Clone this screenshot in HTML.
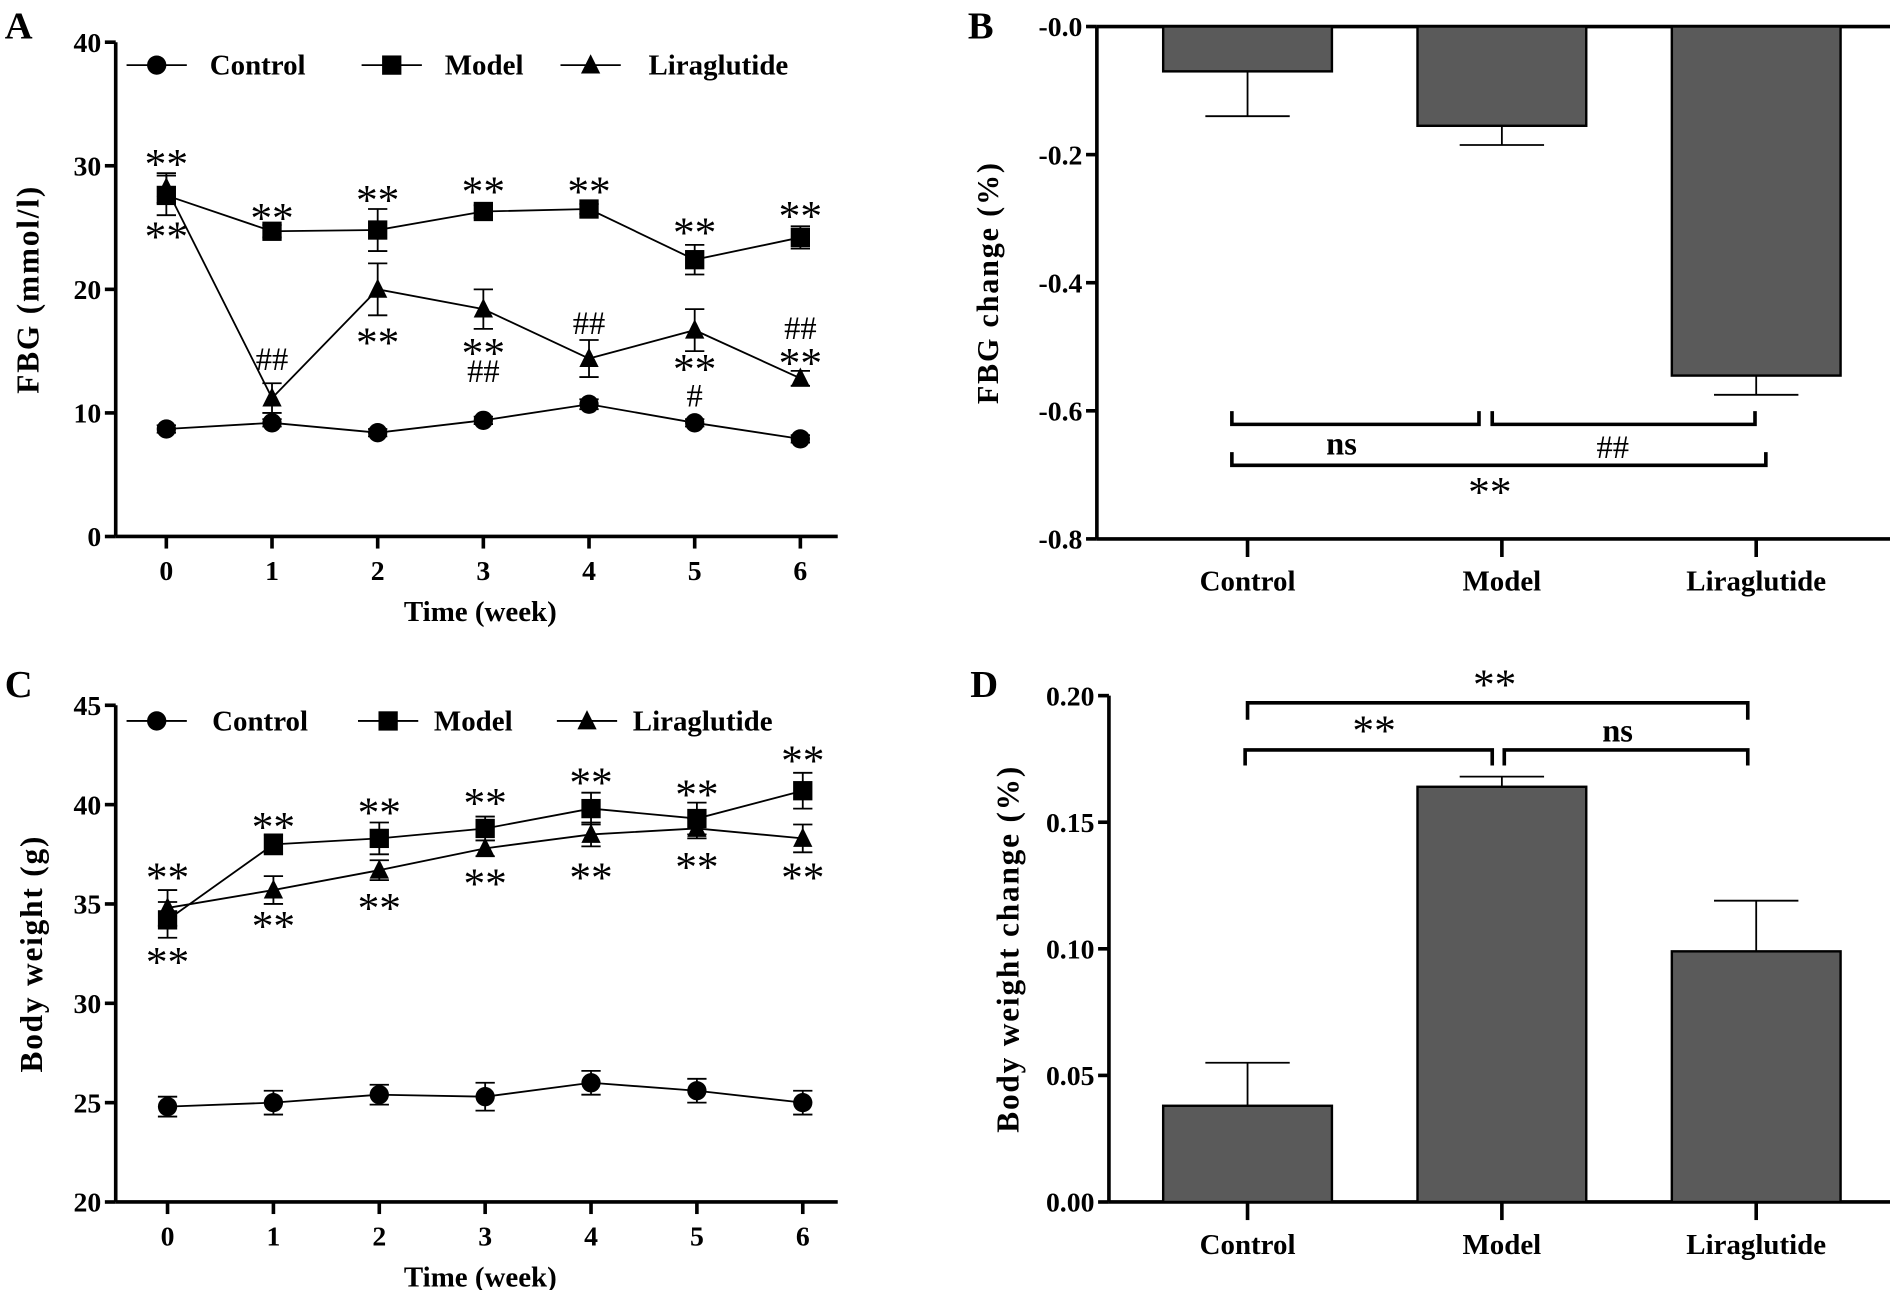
<!DOCTYPE html>
<html><head><meta charset="utf-8"><style>
html,body{margin:0;padding:0;background:#fff;}
svg{display:block;font-family:"Liberation Serif",serif;font-weight:bold;}
</style></head><body>
<svg id="fig" width="1890" height="1290" viewBox="0 0 1568 1070" preserveAspectRatio="none" xmlns="http://www.w3.org/2000/svg"></svg>
<script>
const weeks = [0,1,2,3,4,5,6];
const fbgControl = [8.7,9.2,8.4,9.4,10.7,9.2,7.9];
const fbgControlErr = [0.3,0.3,0.3,0.3,0.4,0.3,0.3];
const fbgModel = [27.6,24.7,24.8,26.3,26.5,22.4,24.2];
const fbgModelErr = [1.6,0.5,1.7,0.5,0.4,1.2,0.9];
const fbgLira = [28.2,11.2,20.0,18.4,14.4,16.7,12.8];
const fbgLiraErr = [1.2,1.2,2.1,1.6,1.5,1.7,0.6];
const fbgTicks = [0,10,20,30,40];
const bwControl = [24.8,25.0,25.4,25.3,26.0,25.6,25.0];
const bwControlErr = [0.5,0.6,0.5,0.7,0.6,0.6,0.6];
const bwModel = [34.2,38.0,38.3,38.8,39.8,39.3,40.7];
const bwModelErr = [0.9,0.5,0.8,0.6,0.8,0.8,0.9];
const bwLira = [34.8,35.7,36.7,37.8,38.5,38.8,38.3];
const bwLiraErr = [0.9,0.7,0.5,0.4,0.6,0.5,0.7];
const bwTicks = [20,25,30,35,40,45];
const groups = ["Control","Model","Liraglutide"];
const fbgChange = [-0.07,-0.155,-0.545];
const fbgChangeErr = [0.07,0.03,0.03];
const fbgChangeTicks = [-0.8,-0.6,-0.4,-0.2,0];
const bwChange = [0.038,0.164,0.099];
const bwChangeErr = [0.017,0.004,0.020];
const bwChangeTicks = [0,0.05,0.10,0.15,0.20];

const svg=document.getElementById('fig');
const NS='http://www.w3.org/2000/svg';
function el(tag,attrs,parent,text){const e=document.createElementNS(NS,tag);for(const k in attrs)e.setAttribute(k,attrs[k]);if(text!==undefined)e.textContent=text;(parent||svg).appendChild(e);return e;}
function line(x1,y1,x2,y2,w,p){return el('line',{x1,y1,x2,y2,stroke:'#000','stroke-width':w||1.5},p);}
function txt(x,y,s,size,anchor,p,extra){const a={x,y,'font-size':size,'text-anchor':anchor||'middle'};Object.assign(a,extra||{});return el('text',a,p,s);}
function marker(type,x,y,p,r){r=r||8;
  if(type==='circle')return el('circle',{cx:x,cy:y,r:r,fill:'#000'},p);
  if(type==='square')return el('rect',{x:x-r,y:y-r,width:2*r,height:2*r,fill:'#000'},p);
  return el('polygon',{points:`${x},${y-r-1} ${x-r},${y+r-1} ${x+r},${y+r-1}`,fill:'#000'},p);}
const STAR=36;

function linePanel(cfg){
  const g=el('g',{});
  
  
  const {x0,x1,yTop,yBot,vmin,vmax}=cfg;
  const sy=v=>yBot-(v-vmin)/(vmax-vmin)*(yBot-yTop);
  const sx=w=>cfg.wx0+w*(cfg.wx6-cfg.wx0)/6;
  const ax=el('g',{},g);
  line(x0,yTop,x0,yBot,3,ax);
  cfg.ticks.forEach(t=>{line(x0-9,sy(t),x0,sy(t),3,ax);txt(x0-12,sy(t)+8,String(t),23,'end',ax);});
  const xa=el('g',{},g);
  line(x0,yBot,x1,yBot,3,xa);
  weeks.forEach(w=>{line(sx(w),yBot,sx(w),yBot+10,3,xa);txt(sx(w),yBot+36,String(w),23,'middle',xa);});
  const xt=txt((x0+x1)/2+3,yBot+70,'Time (week)',24,'middle',g);
  const yt=txt(0,0,cfg.ytitle,cfg.ytsize,'middle',g,{transform:`translate(${cfg.ytx},${(yTop+yBot)/2}) rotate(-90)`,'letter-spacing':cfg.yls||0});
  
  cfg.series.forEach(s=>{
    const sg=el('g',{},g);
    el('polyline',{points:s.v.map((v,i)=>`${sx(weeks[i])},${sy(v)}`).join(' '),fill:'none',stroke:'#000','stroke-width':1.5},sg);
    s.v.forEach((v,i)=>{const x=sx(weeks[i]);const e=s.e[i];
      line(x,sy(v-e),x,sy(v+e),1.5,sg);line(x-8,sy(v+e),x+8,sy(v+e),1.5,sg);line(x-8,sy(v-e),x+8,sy(v-e),1.5,sg);
      const m=marker(s.m,x,sy(v),sg);});
  });
  const lg=el('g',{},g);
  cfg.legend.forEach(L=>{const le=el('g',{},lg);
    line(L.mx-25,cfg.ly,L.mx+25,cfg.ly,1.5,le);marker(L.m,L.mx,cfg.ly,le);txt(L.tx,cfg.ly+8,L.t,24,'start',le);});
  const an=el('g',{},g);
  cfg.ann.forEach(a=>txt(sx(a[0]),a[1],a[2],a[2]==='**'?STAR:27,'middle',an,{'font-weight':'normal'}));
  return g;
}

function barPanel(cfg){
  const g=el('g',{});
  
  
  const {x0,x1,yTop,yBot,vmin,vmax}=cfg;
  const sy=v=>yBot-(v-vmin)/(vmax-vmin)*(yBot-yTop);
  const sx=i=>cfg.c0+i*(cfg.c2-cfg.c0)/2;
  const ax=el('g',{},g);
  line(x0,yTop,x0,yBot,3,ax);
  cfg.ticks.forEach(t=>{line(x0-9,sy(t),x0,sy(t),3,ax);txt(x0-12,sy(t)+8,cfg.fmt(t),23,'end',ax);});
  const xa=el('g',{},g);
  line(x0,yBot,x1,yBot,3,xa);
  if(cfg.topLine)line(x0,yTop,x1,yTop,3,xa);
  groups.forEach((c,i)=>{line(sx(i),yBot,sx(i),yBot+15,3,xa);txt(sx(i),yBot+43,c,24,'middle',xa);});
  const yt=txt(0,0,cfg.ytitle,cfg.ytsize,'middle',g,{transform:`translate(${cfg.ytx},${(yTop+yBot)/2}) rotate(-90)`,'letter-spacing':cfg.yls||0});
  
  cfg.v.forEach((v,i)=>{const x=sx(i);const y0=sy(0),y1=sy(v);
    const b=el('rect',{x:x-70,y:Math.min(y0,y1),width:140,height:Math.abs(y1-y0),fill:'#5a5a5a',stroke:'#000','stroke-width':2},g);
    
    const e=v<0?v-cfg.e[i]:v+cfg.e[i];
    line(x,y1,x,sy(e),1.5,g);line(x-35,sy(e),x+35,sy(e),1.5,g);});
  const an=el('g',{},g);
  cfg.brackets.forEach(b=>{el('polyline',{points:`${b[0]},${b[3]} ${b[0]},${b[2]} ${b[1]},${b[2]} ${b[1]},${b[3]}`,fill:'none',stroke:'#000','stroke-width':3},an);
    const star=b[6]==='**';
    txt(b[4],b[5],b[6],star?STAR:27,'middle',an,{'font-weight':star||b[6]==='##'?'normal':'bold'});});
  return g;
}

function letter(x,y,s){const t=txt(x,y,s,32,'start');}
letter(4,32,'A');letter(803,32,'B');letter(4,578,'C');letter(805,578,'D');

linePanel({name:'panel-a-fbg',x0:96,x1:695,yTop:35,yBot:445,vmin:0,vmax:40,wx0:138,wx6:664,ticks:fbgTicks,ytitle:'FBG (mmol/l)',ytx:32,ytsize:26,yls:1.5,
  series:[{name:'control-series',v:fbgControl,e:fbgControlErr,m:'circle'},{name:'model-series',v:fbgModel,e:fbgModelErr,m:'square'},{name:'liraglutide-series',v:fbgLira,e:fbgLiraErr,m:'triangle'}],
  ly:54,legend:[{mx:130,tx:174,t:'Control',m:'circle'},{mx:325,tx:369,t:'Model',m:'square'},{mx:490,tx:538,t:'Liraglutide',m:'triangle'}],
  ann:[[0,148,'**'],[0,208,'**'],[1,193,'**'],[2,178,'**'],[3,171,'**'],[4,171,'**'],[5,205,'**'],[6,191,'**'],
       [1,307,'##'],[2,296,'**'],[3,305,'**'],[3,317,'##'],[4,277,'##'],[5,318,'**'],[5,337,'#'],[6,281,'##'],[6,313,'**']]});

barPanel({name:'panel-b-fbg-change',x0:910,x1:1568,yTop:22,yBot:447,vmin:-0.8,vmax:0,c0:1035,c2:1457,ticks:fbgChangeTicks,topLine:true,
  fmt:t=>t===0?'-0.0':t.toFixed(1),ytitle:'FBG change (%)',ytx:828,ytsize:25,yls:1.5,v:fbgChange,e:fbgChangeErr,
  brackets:[[1022,1227,352,341,1113,377,'ns'],[1238,1456,352,341,1338,380,'##'],[1022,1465,386,375,1236,420,'**']]});

linePanel({name:'panel-c-body-weight',x0:96,x1:695,yTop:585,yBot:997,vmin:20,vmax:45,wx0:139,wx6:666,ticks:bwTicks,ytitle:'Body weight (g)',ytx:35,ytsize:26,yls:1.5,
  series:[{name:'control-series',v:bwControl,e:bwControlErr,m:'circle'},{name:'model-series',v:bwModel,e:bwModelErr,m:'square'},{name:'liraglutide-series',v:bwLira,e:bwLiraErr,m:'triangle'}],
  ly:598,legend:[{mx:130,tx:176,t:'Control',m:'circle'},{mx:322,tx:360,t:'Model',m:'square'},{mx:487,tx:525,t:'Liraglutide',m:'triangle'}],
  ann:[[0,740,'**'],[0,810,'**'],[1,698,'**'],[1,780,'**'],[2,686,'**'],[2,765,'**'],[3,678,'**'],[3,745,'**'],[4,661,'**'],[4,740,'**'],[5,671,'**'],[5,731,'**'],[6,643,'**'],[6,740,'**']]});

barPanel({name:'panel-d-body-weight-change',x0:920,x1:1568,yTop:577,yBot:997,vmin:0,vmax:0.2,c0:1035,c2:1457,ticks:bwChangeTicks,
  fmt:t=>t.toFixed(2),ytitle:'Body weight change (%)',ytx:845,ytsize:26,yls:1.5,v:bwChange,e:bwChangeErr,
  brackets:[[1035,1450,583,597,1240,580,'**'],[1033,1238,622,635,1140,618,'**'],[1248,1450,622,635,1342,615,'ns']]});
</script>
</body></html>
